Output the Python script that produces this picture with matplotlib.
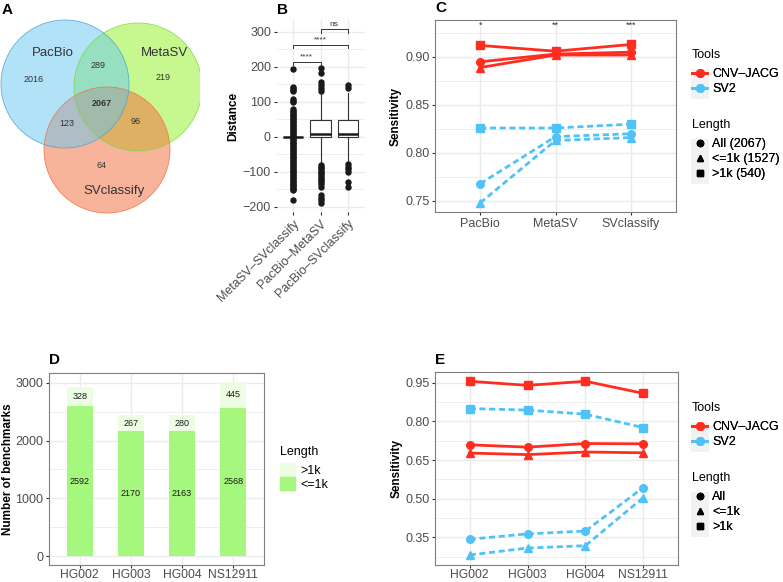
import matplotlib
matplotlib.use("Agg")
import matplotlib.pyplot as plt
from matplotlib.patches import Circle, Patch, Rectangle
from matplotlib.lines import Line2D
from matplotlib.ticker import MultipleLocator

plt.rcParams['font.family'] = ['Liberation Sans', 'DejaVu Sans']

# ---------------- data ----------------
# A: venn counts (region key = PacBio/MetaSV/SVclassify membership)
venn_names = ["PacBio", "MetaSV", "SVclassify"]
venn_regions = ["100", "010", "001", "110", "101", "011", "111"]
venn_counts = [2016, 219, 64, 289, 123, 96, 2067]

# B: distance box plots (box stats)
dist_groups = ["MetaSV–SVclassify", "PacBio–MetaSV", "PacBio–SVclassify"]
dist_q1 = [0, -2, -2]
dist_med = [0, 7, 7]
dist_q3 = [0, 49, 49]
dist_lo = [0, -76, -76]
dist_hi = [0, 124, 124]
fliers_1 = [192, 143, 139, 133, 129, 107, 103, 100,
            78, 74, 70, 66, 62, 58, 54, 50, 46, 42, 38, 34, 30, 26, 22, 18, 14, 10, 6, 2,
            -2, -6, -10, -14, -18, -22, -26, -30, -34, -38, -42, -46, -50, -54, -58, -62,
            -66, -70, -74, -78, -82, -86, -90, -94, -98, -102, -106, -110, -114, -118,
            -122, -126, -130, -134, -138, -142, -146, -150, -152, -181]
fliers_2 = [195, 181, 155, 148, 138, 131,
            -82, -86, -90, -95, -100, -105, -110, -115, -120, -125, -130, -136, -143,
            -167, -175, -182, -189]
fliers_3 = [148, 138, -78, -86, -93, -100, -129, -143]
brackets = [(0, 1, 214, "****"), (0, 2, 262, "****"), (1, 2, 307, "ns")]

# C: sensitivity by comparison set
comp_sets = ["PacBio", "MetaSV", "SVclassify"]
comp_sig = ["*", "**", "***"]
c_cnv_all = [0.895, 0.903, 0.905]
c_cnv_le1k = [0.889, 0.902, 0.902]
c_cnv_gt1k = [0.912, 0.906, 0.913]
c_sv2_all = [0.768, 0.817, 0.820]
c_sv2_le1k = [0.748, 0.813, 0.816]
c_sv2_gt1k = [0.826, 0.826, 0.830]

# D: number of benchmarks per sample
samples = ["HG002", "HG003", "HG004", "NS12911"]
n_le1k = [2592, 2170, 2163, 2568]
n_gt1k = [328, 267, 280, 445]

# E: sensitivity by sample
e_cnv_all = [0.709, 0.700, 0.714, 0.713]
e_cnv_le1k = [0.677, 0.671, 0.681, 0.678]
e_cnv_gt1k = [0.956, 0.940, 0.956, 0.909]
e_sv2_all = [0.342, 0.363, 0.374, 0.543]
e_sv2_le1k = [0.281, 0.308, 0.317, 0.504]
e_sv2_gt1k = [0.850, 0.844, 0.828, 0.776]
e_ticks = [0.35, 0.50, 0.65, 0.80, 0.95]

RED = "#FF2D1F"
BLUE = "#4FC3F7"
GREEN_LO = "#A5F77E"
GREEN_HI = "#EDFDE3"
W, H = 783, 582
TITLE_FS = 8.5


def box(l, t, r, b):
    # pixel box -> figure fraction rect
    return [l / W, 1 - b / H, (r - l) / W, (b - t) / H]


def gg_style(ax, border=True):
    ax.set_facecolor("white")
    ax.set_axisbelow(True)
    ax.grid(True, which="major", color="#EBEBEB", lw=1.0)
    ax.grid(True, which="minor", axis="y", color="#EBEBEB", lw=0.6)
    for s in ax.spines.values():
        s.set_visible(border)
        s.set_color("#7F7F7F")
        s.set_linewidth(0.8)
    ax.tick_params(which="major", length=2.5, color="#333333", labelsize=9,
                   labelcolor="#4D4D4D", pad=1.5)
    ax.tick_params(which="minor", length=0)


def ylab(ax, text, x_px, left_px, width_px):
    ax.set_ylabel(text, fontsize=TITLE_FS, fontweight="bold")
    ax.yaxis.set_label_coords((x_px - left_px) / width_px, 0.5)
    ax.yaxis.label.set_va("center")


fig = plt.figure(figsize=(W / 100, H / 100), dpi=100)

# ---------------- A: venn ----------------
axA = fig.add_axes(box(0, 0, 200, 290))
axA.set_xlim(0, 200)
axA.set_ylim(290, 0)
axA.axis("off")
# drawn MetaSV, SVclassify, then PacBio on top
circ = [((138, 87), 64, "#91F321", "#7AD83A"),
        ((107, 150), 63, "#F36939", "#F07040"),
        ((65, 84), 64, "#67C7F3", "#4B9FD0")]
for (c, r, fc, ec) in circ:
    axA.add_patch(Circle(c, r, facecolor=fc, alpha=0.5, edgecolor="none"))
for (c, r, fc, ec) in circ:
    axA.add_patch(Circle(c, r, facecolor="none", edgecolor=ec, lw=0.6, alpha=0.8))
name_pos = [(53, 53), (164, 53), (114, 191)]
for nm, (x, y) in zip(venn_names, name_pos):
    axA.text(x, y, nm, fontsize=9.5, color="#333333", ha="center", va="center")
count_pos = {"100": (34, 80), "010": (163, 77), "001": (102, 166), "110": (98, 66),
             "101": (67, 124), "011": (136, 121), "111": (102, 104)}
for reg, n in zip(venn_regions, venn_counts):
    x, y = count_pos[reg]
    axA.text(x, y, str(n), fontsize=6.5, color="#333333", ha="center", va="center",
             fontweight="bold" if reg == "111" else "normal")

# ---------------- B: boxplots ----------------
axB = fig.add_axes(box(276.5, 20, 364.5, 212))
stats = []
for i, fl in enumerate([fliers_1, fliers_2, fliers_3]):
    stats.append(dict(med=dist_med[i], q1=dist_q1[i], q3=dist_q3[i],
                      whislo=dist_lo[i], whishi=dist_hi[i], fliers=fl))
axB.bxp(stats, positions=[1, 2, 3], widths=0.75, patch_artist=True,
        boxprops=dict(facecolor="white", edgecolor="#333333", lw=0.8),
        medianprops=dict(color="#1A1A1A", lw=1.8),
        whiskerprops=dict(color="#333333", lw=0.8),
        capprops=dict(lw=0),
        flierprops=dict(marker="o", markersize=3.6, markerfacecolor="#1A1A1A",
                        markeredgecolor="#1A1A1A"))
gg_style(axB, border=False)
axB.set_xlim(0.4, 3.6)
axB.set_ylim(-215, 333)
axB.yaxis.set_major_locator(MultipleLocator(100))
axB.yaxis.set_minor_locator(MultipleLocator(50))
axB.set_xticks([1, 2, 3])
axB.set_xticklabels(dist_groups, rotation=45, ha="right", rotation_mode="anchor")
ylab(axB, "Distance", 233, 276.5, 88)
for (a, b, yv, lab) in brackets:
    axB.plot([a + 1, a + 1, b + 1, b + 1], [yv - 10, yv, yv, yv - 10], color="#333333", lw=0.7)
    axB.text((a + b) / 2 + 1, yv + 4, lab, fontsize=6, ha="center", va="bottom", color="#333333")

# ---------------- C: sensitivity by comparison ----------------
axC = fig.add_axes(box(435, 20, 676, 212))
gg_style(axC)
xc = range(1, len(comp_sets) + 1)
for ys, mk in [(c_cnv_all, "o"), (c_cnv_le1k, "^"), (c_cnv_gt1k, "s")]:
    axC.plot(xc, ys, color=RED, lw=2, marker=mk, ms=5.5)
for ys, mk in [(c_sv2_all, "o"), (c_sv2_le1k, "^"), (c_sv2_gt1k, "s")]:
    axC.plot(xc, ys, color=BLUE, lw=2, marker=mk, ms=5.5, dashes=(2.2, 1.3))
axC.set_xlim(0.4, 3.6)
axC.set_ylim(0.7385, 0.9385)
axC.yaxis.set_major_locator(MultipleLocator(0.05))
axC.yaxis.set_minor_locator(MultipleLocator(0.025))
axC.yaxis.set_major_formatter(lambda v, p: f"{v:.2f}")
axC.set_xticks(list(xc))
axC.set_xticklabels(comp_sets)
ylab(axC, "Sensitivity", 396, 435, 241)
for x, s in zip(xc, comp_sig):
    axC.text(x, 0.9335, s, fontsize=6.5, ha="center", va="center", color="#333333")

# ---------------- D: stacked bars ----------------
axD = fig.add_axes(box(49, 373, 264, 565))
gg_style(axD)
axD.tick_params(axis="x", labelsize=8.7, pad=1, length=2)
xd = range(1, len(samples) + 1)
axD.bar(xd, n_le1k, width=0.5, color=GREEN_LO)
axD.bar(xd, n_gt1k, width=0.5, bottom=n_le1k, color=GREEN_HI)
for x, lo, hi in zip(xd, n_le1k, n_gt1k):
    axD.text(x, lo / 2, str(lo), fontsize=6.5, ha="center", va="center", color="#1A1A1A")
    axD.text(x, lo + hi / 2, str(hi), fontsize=6.5, ha="center", va="center", color="#1A1A1A")
axD.set_xlim(0.4, 4.6)
axD.set_ylim(-154, 3171)
axD.yaxis.set_major_locator(MultipleLocator(1000))
axD.yaxis.set_minor_locator(MultipleLocator(500))
axD.set_xticks(list(xd))
axD.set_xticklabels(samples)
ylab(axD, "Number of benchmarks", 8, 49, 215)
fig.text(280 / W, 1 - 452 / H, "Length", fontsize=9, ha="left", va="center")
fig.legend([Patch(color=GREEN_HI), Patch(color=GREEN_LO)], [">1k", "<=1k"],
           loc="upper left", bbox_to_anchor=(280 / W, 1 - 463 / H),
           frameon=False, fontsize=9, handlelength=1.2, handleheight=1.2,
           labelspacing=0.05, handletextpad=0.45, borderpad=0, borderaxespad=0)

# ---------------- E: sensitivity by sample ----------------
axE = fig.add_axes(box(435, 372, 678, 565))
gg_style(axE)
axE.tick_params(axis="x", labelsize=8.7, pad=1, length=2)
for ys, mk in [(e_cnv_all, "o"), (e_cnv_le1k, "^"), (e_cnv_gt1k, "s")]:
    axE.plot(xd, ys, color=RED, lw=2, marker=mk, ms=5.5)
for ys, mk in [(e_sv2_all, "o"), (e_sv2_le1k, "^"), (e_sv2_gt1k, "s")]:
    axE.plot(xd, ys, color=BLUE, lw=2, marker=mk, ms=5.5, dashes=(2.2, 1.3))
axE.set_xlim(0.4, 4.6)
axE.set_ylim(0.242, 0.992)
axE.set_yticks(e_ticks)
axE.set_yticks([t - 0.075 for t in e_ticks], minor=True)
axE.yaxis.set_major_formatter(lambda v, p: f"{v:.2f}")
axE.set_xticks(list(xd))
axE.set_xticklabels(samples)
ylab(axE, "Sensitivity", 397, 435, 243)


def tool_length_legends(title_px, length_labels):
    # title_px: y pixel of the "Tools" title; everything else is placed relative to it
    for dy, n in [(14, 2), (84, 3)]:
        fig.patches.append(Rectangle((691 / W, 1 - (title_px + dy + 15 * n) / H), 18 / W,
                                     15 * n / H, transform=fig.transFigure,
                                     facecolor="#F2F2F2", edgecolor="none", zorder=0))
    fig.text(692 / W, 1 - title_px / H, "Tools", fontsize=9, ha="left", va="center")
    fig.text(692 / W, 1 - (title_px + 70) / H, "Length", fontsize=9, ha="left", va="center")
    tools = [Line2D([], [], color=RED, lw=2, marker="o", ms=5.5),
             Line2D([], [], color=BLUE, lw=2, marker="o", ms=5.5)]
    lg1 = fig.legend(tools, ["CNV–JACG", "SV2"], loc="upper left",
                     bbox_to_anchor=(692 / W, 1 - (title_px + 13) / H), frameon=False,
                     fontsize=9, handlelength=1.2, labelspacing=0.25,
                     handletextpad=0.4, borderpad=0, borderaxespad=0)
    shapes = [Line2D([], [], color="black", lw=0, marker=m, ms=4.5) for m in ["o", "^", "s"]]
    lg2 = fig.legend(shapes, length_labels, loc="upper left",
                     bbox_to_anchor=(692 / W, 1 - (title_px + 83) / H), frameon=False,
                     fontsize=9, handlelength=1.2, labelspacing=0.25,
                     handletextpad=0.4, borderpad=0, borderaxespad=0)
    fig.add_artist(lg1)
    fig.add_artist(lg2)


tool_length_legends(55, ["All (2067)", "<=1k (1527)", ">1k (540)"])
tool_length_legends(408, ["All", "<=1k", ">1k"])

# panel letters
for lab, (x, y) in zip("ABCDE", [(2, 10), (277, 10), (435, 8), (49, 360), (435, 360)]):
    fig.text(x / W, 1 - y / H, lab, fontsize=11, fontweight="bold", ha="left", va="center")

fig.savefig("out.png", dpi=100)
